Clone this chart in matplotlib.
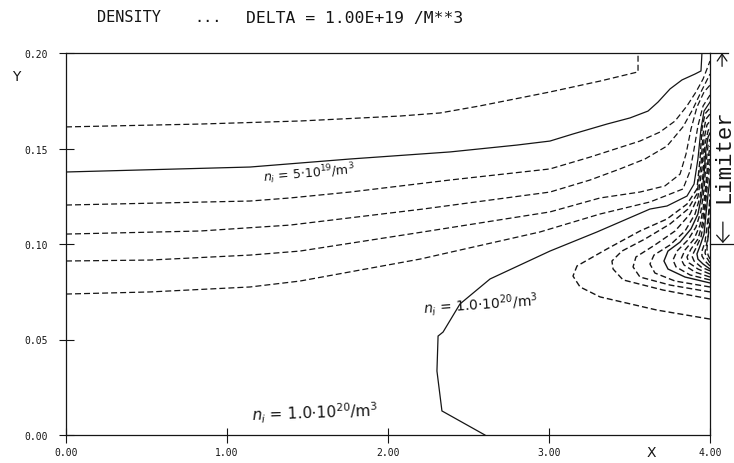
import matplotlib
matplotlib.use("Agg")
import matplotlib.pyplot as plt

# ---------------- data ----------------
# Contour levels in units of DELTA = 1e19 m^-3; every fifth level is drawn solid.
levels = [4, 5, 6, 7, 8, 9, 10, 11, 12, 13, 14, 15, 16, 17, 18, 19, 20, 21, 22, 23]

n40_x = [0.0, 0.832, 1.453, 2.075, 2.323, 2.571, 3.006, 3.317, 3.553, 3.553]
n40_y = [0.1613, 0.1628, 0.1644, 0.1670, 0.1686, 0.1723, 0.1796, 0.1853, 0.1901, 0.2000]

n50_x = [0.0, 1.143, 1.764, 2.385, 2.801, 3.006, 3.149, 3.360, 3.503, 3.615, 3.677, 3.752, 3.826, 3.907, 3.944, 3.950]
n50_y = [0.1377, 0.1403, 0.1445, 0.1482, 0.1518, 0.1539, 0.1576, 0.1628, 0.1660, 0.1696, 0.1743, 0.1812, 0.1859, 0.1890, 0.1906, 0.2000]

n60_x = [0.0, 1.143, 1.391, 1.764, 2.385, 3.006, 3.255, 3.410, 3.565, 3.689, 3.783, 3.857, 3.913, 3.957, 3.981, 4.0]
n60_y = [0.1204, 0.1225, 0.1241, 0.1272, 0.1335, 0.1393, 0.1455, 0.1497, 0.1539, 0.1586, 0.1644, 0.1723, 0.1796, 0.1864, 0.1916, 0.1958]

n70_x = [0.0, 0.832, 1.391, 2.217, 3.006, 3.255, 3.441, 3.596, 3.733, 3.832, 3.894, 3.944, 3.975, 4.0]
n70_y = [0.1052, 0.1068, 0.1099, 0.1183, 0.1272, 0.1335, 0.1393, 0.1445, 0.1513, 0.1613, 0.1707, 0.1796, 0.1848, 0.1890]

n80_x = [0.0, 0.522, 1.143, 1.453, 2.217, 3.006, 3.317, 3.565, 3.720, 3.814, 3.851, 3.882, 3.919, 3.963, 4.0]
n80_y = [0.0911, 0.0916, 0.0942, 0.0963, 0.1063, 0.1168, 0.1241, 0.1272, 0.1304, 0.1366, 0.1471, 0.1602, 0.1717, 0.1796, 0.1832]

n90_x = [0.0, 0.522, 1.143, 1.453, 2.199, 2.944, 3.317, 3.627, 3.832, 3.876, 3.901, 3.925, 3.957, 4.0]
n90_y = [0.0738, 0.0749, 0.0775, 0.0806, 0.0921, 0.1063, 0.1157, 0.1220, 0.1288, 0.1382, 0.1497, 0.1618, 0.1723, 0.1780]

n100_x = [2.602, 2.335, 2.304, 2.311, 2.342, 2.447, 2.634, 3.006, 3.298, 3.627, 3.733, 3.857, 3.901, 3.925, 3.944, 3.963, 4.0]
n100_y = [0.0, 0.0126, 0.0335, 0.0518, 0.0539, 0.0686, 0.0817, 0.0963, 0.1063, 0.1183, 0.1199, 0.1251, 0.1314, 0.1445, 0.1602, 0.1696, 0.1743]

n110_x = [4.0, 3.671, 3.317, 3.193, 3.149, 3.174, 3.360, 3.565, 3.733, 3.857, 3.919, 3.938, 3.950, 3.969, 4.0]
n110_y = [0.0607, 0.0654, 0.0723, 0.0775, 0.0832, 0.0885, 0.0974, 0.1068, 0.1131, 0.1209, 0.1288, 0.1445, 0.1602, 0.1681, 0.1712]

n120_x = [4.0, 3.708, 3.460, 3.398, 3.391, 3.453, 3.596, 3.752, 3.863, 3.919, 3.944, 3.957, 3.975, 4.0]
n120_y = [0.0712, 0.0759, 0.0812, 0.0869, 0.0911, 0.0963, 0.1026, 0.1105, 0.1183, 0.1262, 0.1419, 0.1576, 0.1654, 0.1681]

n130_x = [4.0, 3.752, 3.565, 3.522, 3.540, 3.658, 3.783, 3.876, 3.925, 3.950, 3.963, 3.981, 4.0]
n130_y = [0.0749, 0.0785, 0.0827, 0.0880, 0.0932, 0.0995, 0.1068, 0.1157, 0.1246, 0.1393, 0.1550, 0.1623, 0.1644]

n140_x = [4.0, 3.783, 3.658, 3.627, 3.652, 3.752, 3.845, 3.907, 3.938, 3.957, 3.969, 3.988, 4.0]
n140_y = [0.0775, 0.0806, 0.0848, 0.0895, 0.0942, 0.0995, 0.1068, 0.1157, 0.1246, 0.1366, 0.1524, 0.1592, 0.1613]

n150_x = [4.0, 3.845, 3.739, 3.714, 3.739, 3.814, 3.882, 3.925, 3.950, 3.963, 3.975, 3.988, 4.0]
n150_y = [0.0796, 0.0827, 0.0869, 0.0911, 0.0963, 0.1010, 0.1079, 0.1157, 0.1262, 0.1366, 0.1497, 0.1560, 0.1581]

n160_x = [4.0, 3.876, 3.789, 3.770, 3.795, 3.863, 3.913, 3.944, 3.963, 3.975, 3.988, 4.0]
n160_y = [0.0812, 0.0838, 0.0880, 0.0916, 0.0963, 0.1021, 0.1089, 0.1173, 0.1288, 0.1419, 0.1518, 0.1550]

n170_x = [4.0, 3.907, 3.839, 3.820, 3.845, 3.901, 3.938, 3.957, 3.975, 3.988, 4.0]
n170_y = [0.0827, 0.0853, 0.0890, 0.0921, 0.0969, 0.1026, 0.1099, 0.1183, 0.1314, 0.1445, 0.1513]

n180_x = [4.0, 3.925, 3.870, 3.857, 3.882, 3.925, 3.950, 3.969, 3.981, 3.994, 4.0]
n180_y = [0.0843, 0.0869, 0.0901, 0.0932, 0.0974, 0.1026, 0.1099, 0.1209, 0.1340, 0.1429, 0.1471]

n190_x = [4.0, 3.944, 3.901, 3.888, 3.913, 3.944, 3.963, 3.975, 3.988, 4.0]
n190_y = [0.0859, 0.0880, 0.0911, 0.0937, 0.0979, 0.1037, 0.1120, 0.1236, 0.1340, 0.1419]

n200_x = [4.0, 3.957, 3.925, 3.919, 3.938, 3.963, 3.975, 3.988, 4.0]
n200_y = [0.0869, 0.0895, 0.0921, 0.0948, 0.0990, 0.1052, 0.1157, 0.1262, 0.1340]

n210_x = [4.0, 3.969, 3.950, 3.950, 3.969, 3.981, 3.994, 4.0]
n210_y = [0.0885, 0.0911, 0.0937, 0.0963, 0.1010, 0.1089, 0.1183, 0.1236]

n220_x = [4.0, 3.981, 3.969, 3.975, 3.988, 4.0]
n220_y = [0.0901, 0.0927, 0.0953, 0.0984, 0.1037, 0.1120]

n230_x = [4.0, 3.988, 3.981, 3.988, 3.994, 4.0]
n230_y = [0.0921, 0.0942, 0.0974, 0.1037, 0.1157, 0.1262]

x_ticks = [0.0, 1.0, 2.0, 3.0, 4.0]
x_tick_labels = ["0.00", "1.00", "2.00", "3.00", "4.00"]
y_ticks = [0.0, 0.05, 0.10, 0.15, 0.20]
y_tick_labels = ["0.00", "0.05", "0.10", "0.15", "0.20"]

title_parts = ["DENSITY", "...", "DELTA = 1.00E+19 /M**3"]
label_5e19 = r"$n_i$ = 5$\cdot$10$^{19}$/m$^3$"
label_1e20 = r"$n_i$ = 1.0$\cdot$10$^{20}$/m$^3$"
limiter_text = "Limiter"

contour_x = [n40_x, n50_x, n60_x, n70_x, n80_x, n90_x, n100_x, n110_x, n120_x, n130_x,
             n140_x, n150_x, n160_x, n170_x, n180_x, n190_x, n200_x, n210_x, n220_x, n230_x]
contour_y = [n40_y, n50_y, n60_y, n70_y, n80_y, n90_y, n100_y, n110_y, n120_y, n130_y,
             n140_y, n150_y, n160_y, n170_y, n180_y, n190_y, n200_y, n210_y, n220_y, n230_y]

# ---------------- figure ----------------
plt.rcParams["lines.scale_dashes"] = False
plt.rcParams["mathtext.fontset"] = "dejavusans"
INK = "#151515"

W, H = 734, 464
fig = plt.figure(figsize=(W / 100, H / 100), dpi=100)
ax = fig.add_axes([66 / W, 28 / H, 644 / W, 382 / H])
ax.set_xlim(0, 4)
ax.set_ylim(0, 0.2)

for lev, xs, ys in zip(levels, contour_x, contour_y):
    ls = "-" if lev % 5 == 0 else (0, (4.3, 2.2))
    lw = 0.9 if lev < 11 else 1.0
    ax.plot(xs, ys, color=INK, lw=lw, linestyle=ls, solid_joinstyle="miter")

for s in ax.spines.values():
    s.set_color(INK)
    s.set_linewidth(0.9)

ax.set_xticks(x_ticks)
ax.set_xticklabels(x_tick_labels)
ax.set_yticks(y_ticks)
ax.set_yticklabels(y_tick_labels)
ax.tick_params(axis="both", direction="inout", length=10.8, width=0.8, colors=INK,
               labelsize=7)
ax.tick_params(axis="y", pad=7.6)
ax.tick_params(axis="x", pad=3.6)
for lab in ax.get_xticklabels() + ax.get_yticklabels():
    lab.set_family("DejaVu Sans Mono")

# in-plot level annotations
ax.text(1.224, 0.1353, label_5e19, fontsize=9, rotation=5, rotation_mode="anchor",
        ha="left", va="center", color=INK)
ax.text(2.217, 0.0665, label_1e20, fontsize=10, rotation=4, rotation_mode="anchor",
        ha="left", va="center", color=INK)
ax.text(1.155, 0.0110, label_1e20, fontsize=11, rotation=2, rotation_mode="anchor",
        ha="left", va="center", color=INK)

# limiter marker at the right boundary
ax.plot([4.0, 4.11], [0.2, 0.2], color=INK, lw=0.9, clip_on=False)
ax.plot([4.0, 4.143], [0.1, 0.1], color=INK, lw=0.9, clip_on=False)
ax.annotate("", xy=(4.075, 0.2), xytext=(4.075, 0.1930),
            arrowprops=dict(arrowstyle="->,head_length=0.5,head_width=0.35", lw=0.9,
                            color=INK, shrinkA=0, shrinkB=0), annotation_clip=False)
ax.annotate("", xy=(4.08, 0.1005), xytext=(4.08, 0.1115),
            arrowprops=dict(arrowstyle="->,head_length=0.5,head_width=0.45", lw=0.9,
                            color=INK, shrinkA=0, shrinkB=0), annotation_clip=False)
fig.text(724 / W, 1 - 156 / H, limiter_text, rotation=90, ha="center", va="center",
         family="Liberation Mono", fontsize=16, color=INK)

# title and axis names
ty = 1 - 18 / H
fig.text(97 / W, ty, title_parts[0], family="DejaVu Sans Mono", fontsize=11,
         ha="left", va="center", color=INK)
fig.text(194 / W, ty, title_parts[1], family="DejaVu Sans Mono", fontsize=11,
         ha="left", va="center", color=INK)
fig.text(246 / W, ty, title_parts[2], family="DejaVu Sans Mono", fontsize=11.8,
         ha="left", va="center", color=INK)
fig.text(16 / W, 1 - 77 / H, "Y", fontsize=10, ha="center", va="center", color=INK)
fig.text(651 / W, 1 - 453 / H, "X", fontsize=10, ha="center", va="center", color=INK)

fig.savefig("out.png", dpi=100)
